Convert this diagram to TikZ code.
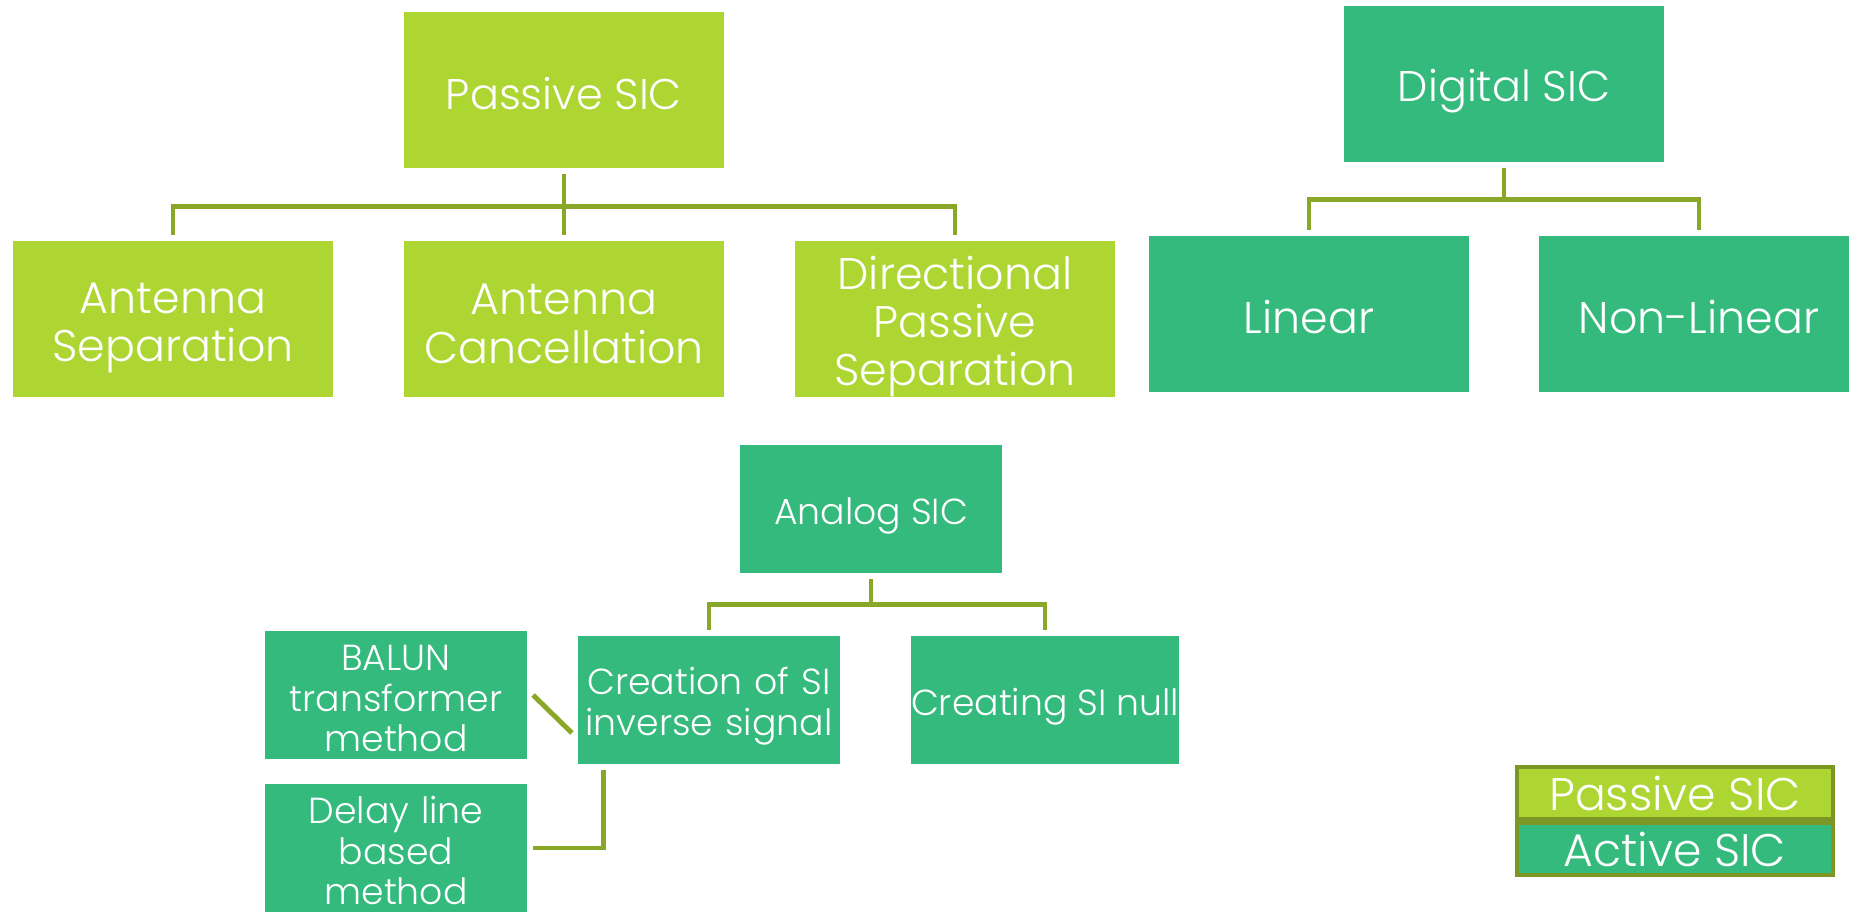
\documentclass[tikz,border=0pt]{standalone}
\usepackage{fontspec}
\setmainfont{Poppins}[UprightFont=* Light]
\usetikzlibrary{positioning, calc}

\definecolor{passgreen}{RGB}{173,214,50}
\definecolor{actgreen}{RGB}{51,186,124}
\definecolor{linkgreen}{RGB}{138,168,40}

\tikzset{
  box/.style={text=white, inner sep=0pt, outer sep=0.06cm, align=center,
    execute at begin node={\rule{0pt}{1.1em}},
    execute at end node={\rule[-0.2em]{0pt}{0.2em}}},
  multi/.style={text width=#1},
  passbox/.style={box, fill=passgreen, minimum width=3.19cm, minimum height=1.56cm},
  actbox/.style={box, fill=actgreen, minimum width=3.19cm, minimum height=1.56cm},
  smallbox/.style={box, fill=actgreen, minimum width=2.62cm, minimum height=1.28cm,
    font=\fontsize{10.3}{11.5}\selectfont},
  head/.style={font=\fontsize{12.2}{13}\selectfont},
  mid/.style={font=\fontsize{12.6}{13.7}\selectfont},
  link/.style={draw=linkgreen, line width=1.4pt},
  legcell/.style={text=white, inner sep=0pt, align=center,
    draw=linkgreen!90!black, line width=1.2pt,
    minimum width=3.16cm, minimum height=0.52cm, font=\fontsize{13}{14}\selectfont}
}

\begin{document}
\begin{tikzpicture}[x=0.01cm, y=-0.01cm]
  \useasboundingbox (0,0) rectangle (1849,911);

  % passive branch
  \node[passbox, head] (passive) at (564, 90) {Passive SIC};
  \node[passbox, mid, multi=3.1cm] (antsep) at (173, 319) {Antenna\\Separation};
  \node[passbox, mid, multi=3.1cm] (antcan) at (564, 319) {Antenna\\Cancellation};
  \node[passbox, mid, multi=3.1cm] (dirsep) at (955, 319) {Directional\\Passive\\Separation};

  \draw[link] (passive.south) -- ++(0,32) -| (antsep.north);
  \draw[link] (passive.south) -- ++(0,32) -| (dirsep.north);
  \draw[link] (passive.south) -- (antcan.north);

  % digital branch
  \node[actbox, head] (digital) at (1504, 84) {Digital SIC};
  \node[actbox, mid] (linear) at (1309, 314) {Linear};
  \node[actbox, mid] (nonlin) at (1699, 314) {Non-Linear};

  \draw[link] (digital.south) -- ++(0,31) -| (linear.north);
  \draw[link] (digital.south) -- ++(0,31) -| (nonlin.north);

  % analog branch
  \node[smallbox] (analog) at (871, 509) {Analog SIC};
  \node[smallbox, multi=2.55cm] (creation) at (709, 700) {Creation of SI\\inverse signal};
  \node[smallbox] (null) at (1045, 700) {Creating SI null};
  \node[smallbox, multi=2.55cm] (balun) at (396, 695) {BALUN\\transformer\\method};
  \node[smallbox, multi=2.55cm] (delay) at (396, 848) {Delay line\\based\\method};

  \draw[link] (analog.south) -- ++(0,25) -| (creation.north);
  \draw[link] (analog.south) -- ++(0,25) -| (null.north);
  \draw[link] (balun.east) -- ($(creation.west)+(0,33)$);
  \draw[link] (delay.east) -| ($(creation.south west)+(32,0)$);

  % legend
  \node[legcell, fill=passgreen] (legpass) at (1675, 793) {Passive SIC};
  \node[legcell, fill=actgreen, below=0pt of legpass] (legact) {Active SIC};
\end{tikzpicture}
\end{document}
